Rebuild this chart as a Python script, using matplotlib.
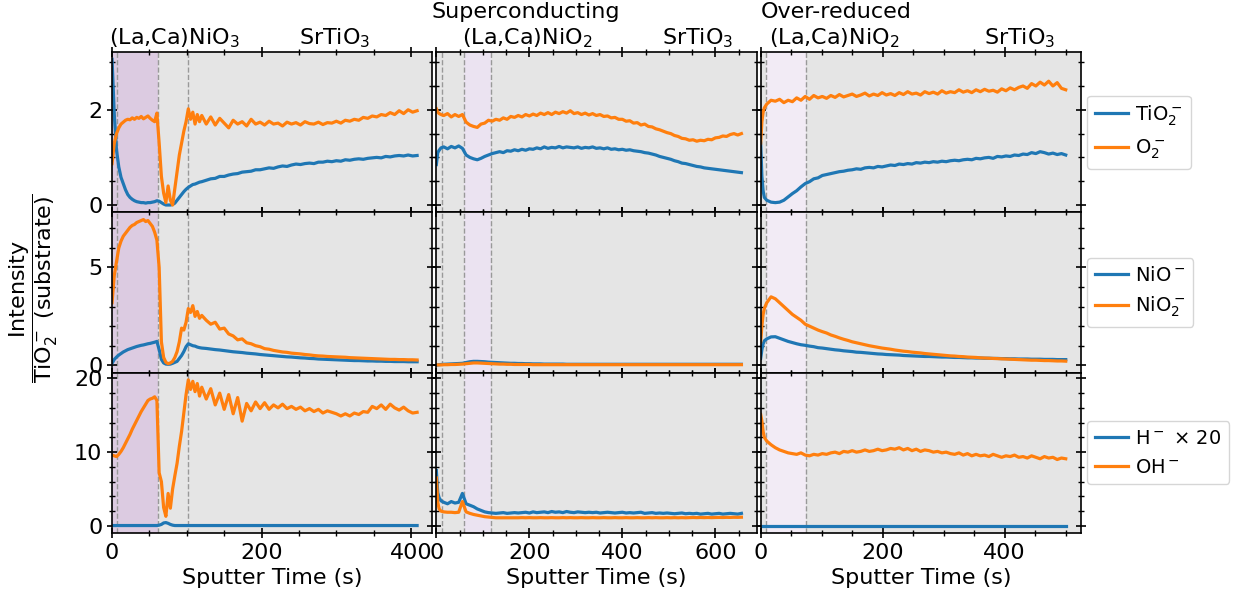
import numpy as np
import matplotlib.pyplot as plt
from matplotlib.ticker import AutoMinorLocator

plt.rcParams['font.size'] = 16

# ---------------- data ----------------
# sputter times per column (s)
t_left = np.concatenate([np.arange(0, 121, 3), np.arange(126, 409, 6)])
t_mid = np.concatenate([[0, 3, 6, 10], np.arange(16, 657, 8)])
t_right = np.concatenate([[0, 2, 4, 6], np.arange(10, 501, 7)])

# (La,Ca)NiO3 column
tio2_left = [3.06, 1.9, 1.15, 0.8, 0.58, 0.45, 0.32, 0.22, 0.16, 0.12,
             0.09, 0.07, 0.06, 0.05, 0.05, 0.04, 0.05, 0.05, 0.06, 0.07,
             0.09, 0.08, 0.05, 0.02, 0.0, 0.0, 0.0, 0.01, 0.04, 0.1,
             0.16, 0.22, 0.28, 0.33, 0.37, 0.4, 0.43, 0.44, 0.46, 0.48,
             0.49,
             0.52, 0.55, 0.56, 0.6, 0.6, 0.63, 0.65, 0.66, 0.69, 0.7,
             0.71, 0.74, 0.74, 0.76, 0.78, 0.77, 0.8, 0.82, 0.81, 0.84,
             0.86, 0.85, 0.87, 0.88, 0.87, 0.9, 0.9, 0.92, 0.91, 0.93,
             0.92, 0.95, 0.94, 0.96, 0.97, 0.96, 0.98, 0.99, 1.0, 0.99,
             1.02, 1.01, 1.03, 1.04, 1.03, 1.05, 1.03, 1.04]
o2_left = [0.87, 1.3, 1.5, 1.62, 1.7, 1.74, 1.78, 1.8, 1.79, 1.83,
           1.8, 1.84, 1.82, 1.86, 1.81, 1.84, 1.87, 1.82, 1.78, 1.75,
           1.93, 1.3, 0.6, 0.25, 0.05, 0.4, 0.1, 0.0, 0.35, 0.7,
           1.05, 1.3, 1.55, 1.75, 2.02, 1.8, 1.95, 1.7, 1.9, 1.75,
           1.88,
           1.7, 1.85, 1.68, 1.82, 1.72, 1.62, 1.78, 1.7, 1.75, 1.66,
           1.8, 1.7, 1.74, 1.68, 1.76, 1.7, 1.72, 1.66, 1.74, 1.7,
           1.73, 1.68, 1.75, 1.71, 1.7, 1.74, 1.69, 1.73, 1.72, 1.76,
           1.72, 1.78, 1.76, 1.8, 1.78, 1.84, 1.82, 1.87, 1.85, 1.9,
           1.88, 1.94, 1.9, 1.98, 1.92, 2.0, 1.95, 1.98]
nio_left = [0.1, 0.3, 0.42, 0.52, 0.6, 0.68, 0.74, 0.8, 0.84, 0.88,
            0.92, 0.96, 0.99, 1.02, 1.04, 1.07, 1.1, 1.12, 1.15, 1.18,
            1.22, 0.8, 0.3, 0.12, 0.06, 0.05, 0.06, 0.1, 0.15, 0.2,
            0.35, 0.5, 0.7, 0.95, 1.1, 1.05, 1.0, 0.98, 0.93, 0.9,
            0.88,
            0.86, 0.83, 0.8, 0.78, 0.75, 0.72, 0.69, 0.67, 0.65, 0.62,
            0.6, 0.58, 0.55, 0.53, 0.51, 0.49, 0.47, 0.45, 0.43, 0.42,
            0.4, 0.38, 0.37, 0.35, 0.34, 0.32, 0.31, 0.3, 0.29, 0.28,
            0.27, 0.26, 0.25, 0.24, 0.24, 0.23, 0.22, 0.22, 0.21, 0.21,
            0.2, 0.2, 0.19, 0.19, 0.19, 0.18, 0.18, 0.18]
nio2_left = [3.2, 4.6, 5.3, 6.0, 6.35, 6.6, 6.75, 6.9, 7.05, 7.15,
             7.2, 7.3, 7.35, 7.4, 7.45, 7.35, 7.4, 7.25, 7.1, 6.8,
             6.4, 5.0, 1.2, 0.4, 0.15, 0.08, 0.12, 0.2, 0.4, 0.7,
             1.2, 1.9, 1.8, 2.2, 2.9, 2.7, 3.05, 2.5, 2.75, 2.4,
             2.55,
             2.3, 2.1, 2.2, 1.85, 1.9, 1.6, 1.5, 1.3, 1.35, 1.15,
             1.1, 1.0, 0.95, 0.85, 0.82, 0.76, 0.72, 0.68, 0.66, 0.62,
             0.6, 0.58, 0.55, 0.53, 0.5, 0.48, 0.47, 0.45, 0.44, 0.43,
             0.42, 0.41, 0.39, 0.38, 0.37, 0.36, 0.35, 0.34, 0.33, 0.32,
             0.31, 0.3, 0.3, 0.29, 0.29, 0.28, 0.28, 0.27]
h_left = [0.05, 0.05, 0.05, 0.05, 0.05, 0.05, 0.05, 0.05, 0.05, 0.05,
          0.05, 0.05, 0.05, 0.05, 0.05, 0.05, 0.05, 0.05, 0.05, 0.05,
          0.05, 0.1, 0.2, 0.4, 0.45, 0.35, 0.2, 0.1, 0.05, 0.05,
          0.05, 0.05, 0.05, 0.05, 0.05, 0.05, 0.05, 0.05, 0.05, 0.05,
          0.05,
          0.05, 0.05, 0.05, 0.05, 0.05, 0.05, 0.05, 0.05, 0.05, 0.05,
          0.05, 0.05, 0.05, 0.05, 0.05, 0.05, 0.05, 0.05, 0.05, 0.05,
          0.05, 0.05, 0.05, 0.05, 0.05, 0.05, 0.05, 0.05, 0.05, 0.05,
          0.05, 0.05, 0.05, 0.05, 0.05, 0.05, 0.05, 0.05, 0.05, 0.05,
          0.05, 0.05, 0.05, 0.05, 0.05, 0.05, 0.05, 0.05]
oh_left = [9.6, 9.5, 9.4, 9.7, 10.1, 10.6, 11.2, 11.8, 12.4, 13.1,
           13.7, 14.3, 14.9, 15.5, 16.0, 16.5, 17.0, 17.2, 17.3, 17.5,
           17.0, 7.2, 6.0, 2.5, 1.3, 4.4, 2.4, 5.0, 6.8, 8.5,
           10.8, 12.8, 15.3, 17.8, 19.8, 18.5, 19.6, 18.2, 19.3, 17.6,
           18.8,
           17.2, 18.6, 16.4, 18.0, 15.8, 17.8, 15.2, 17.4, 14.2, 16.6,
           15.6, 16.8, 15.9, 16.7, 15.8, 16.4, 16.0, 16.5, 15.9, 16.2,
           15.8, 16.1, 15.6, 15.9, 15.5, 15.8, 15.3, 15.6, 15.4, 15.2,
           14.9, 15.2, 14.9, 15.3, 15.1, 15.5, 15.4, 16.2, 15.9, 16.4,
           15.8, 16.5, 16.0, 15.7, 16.1, 15.6, 15.3, 15.4]

# superconducting (La,Ca)NiO2 column
tio2_mid = [0.85, 1.1, 1.15, 1.2,
            1.22, 1.18, 1.23, 1.2, 1.24, 1.19, 1.05, 1.0, 0.97, 0.95,
            0.98, 1.02, 1.05, 1.08, 1.1, 1.12, 1.1, 1.14, 1.13, 1.16,
            1.14, 1.17, 1.15, 1.18, 1.17, 1.2, 1.18, 1.22, 1.19, 1.21,
            1.2, 1.23, 1.2, 1.22, 1.21, 1.2, 1.22, 1.19, 1.21, 1.2,
            1.22, 1.19, 1.2, 1.18, 1.2, 1.17, 1.18, 1.16, 1.17, 1.15,
            1.16, 1.14, 1.13, 1.12, 1.1, 1.09, 1.07, 1.05, 1.02, 1.0,
            0.98, 0.96, 0.93, 0.91, 0.88, 0.87, 0.85, 0.83, 0.81, 0.8,
            0.78, 0.77, 0.76, 0.75, 0.74, 0.73, 0.72, 0.71, 0.7, 0.69,
            0.68]
o2_mid = [2.02, 1.95, 1.92, 1.9,
          1.88, 1.92, 1.85, 1.9, 1.86, 1.9, 1.74, 1.68, 1.65, 1.63,
          1.7, 1.72, 1.78, 1.76, 1.8, 1.78, 1.83, 1.8, 1.86, 1.84,
          1.88, 1.85, 1.9, 1.87, 1.91, 1.88, 1.93, 1.9, 1.94, 1.9,
          1.95, 1.92, 1.96, 1.93, 1.98, 1.92, 1.94, 1.9, 1.93, 1.89,
          1.92, 1.88, 1.9, 1.86, 1.87, 1.83, 1.84, 1.8, 1.8, 1.76,
          1.77, 1.72, 1.73, 1.68, 1.7, 1.65, 1.64, 1.6, 1.58, 1.55,
          1.52, 1.5, 1.46, 1.44, 1.4, 1.39, 1.36, 1.37, 1.34, 1.36,
          1.35, 1.38, 1.37, 1.41, 1.42, 1.45, 1.44, 1.48, 1.5, 1.47,
          1.5]
nio_mid = [0.0, 0.02, 0.03, 0.04,
           0.05, 0.06, 0.07, 0.08, 0.09, 0.1, 0.14, 0.18, 0.2, 0.2,
           0.19, 0.18, 0.16, 0.15, 0.14, 0.13, 0.12, 0.11, 0.1, 0.1,
           0.09, 0.09, 0.08, 0.08, 0.07, 0.07, 0.07, 0.06, 0.06, 0.06,
           0.06, 0.06, 0.06, 0.05, 0.05, 0.05, 0.05, 0.05, 0.05, 0.05,
           0.05, 0.05, 0.05, 0.05, 0.05, 0.05, 0.05, 0.05, 0.05, 0.05,
           0.05, 0.05, 0.05, 0.05, 0.05, 0.05, 0.05, 0.05, 0.05, 0.05,
           0.05, 0.05, 0.05, 0.05, 0.05, 0.05, 0.05, 0.05, 0.05, 0.05,
           0.05, 0.05, 0.05, 0.05, 0.05, 0.05, 0.05, 0.05, 0.05, 0.05,
           0.05]
nio2_mid = [0.02, 0.02, 0.02, 0.02,
            0.03, 0.03, 0.04, 0.04, 0.05, 0.06, 0.08, 0.1, 0.12, 0.12,
            0.11, 0.1, 0.09, 0.08, 0.07, 0.06, 0.06, 0.05, 0.05, 0.04,
            0.04, 0.04, 0.04, 0.04, 0.03, 0.03, 0.03, 0.03, 0.03, 0.03,
            0.03, 0.03, 0.03, 0.03, 0.03, 0.03, 0.03, 0.03, 0.03, 0.03,
            0.03, 0.03, 0.03, 0.03, 0.03, 0.03, 0.03, 0.03, 0.03, 0.03,
            0.03, 0.03, 0.03, 0.03, 0.03, 0.03, 0.03, 0.03, 0.03, 0.03,
            0.03, 0.03, 0.03, 0.03, 0.03, 0.03, 0.03, 0.03, 0.03, 0.03,
            0.03, 0.03, 0.03, 0.03, 0.03, 0.03, 0.03, 0.03, 0.03, 0.03,
            0.03]
h_mid = [7.5, 4.5, 3.8, 3.4,
         3.2, 3.0, 3.3, 3.1, 3.2, 4.4, 3.0, 2.8, 2.6, 2.3,
         2.1, 1.9, 1.8, 1.75, 1.7, 1.75, 1.8, 1.7, 1.75, 1.8,
         1.75, 1.8, 1.85, 1.75, 1.9, 1.8, 1.85, 1.9, 1.8, 1.95,
         1.85, 1.9, 1.8, 1.95, 1.85, 1.8, 1.9, 1.85, 1.8, 1.85,
         1.8, 1.85, 1.75, 1.8, 1.85, 1.8, 1.75, 1.8, 1.85, 1.75,
         1.8, 1.75, 1.8, 1.85, 1.7, 1.75, 1.8, 1.7, 1.75, 1.7,
         1.75, 1.7, 1.65, 1.7, 1.75, 1.65, 1.7, 1.65, 1.7, 1.6,
         1.65, 1.7, 1.6, 1.65, 1.7, 1.6, 1.65, 1.7, 1.65, 1.6,
         1.7]
oh_mid = [6.5, 3.2, 2.3, 2.0,
          1.9, 1.85, 1.85, 1.8, 1.85, 3.3, 1.9, 1.7, 1.55, 1.45,
          1.35, 1.25, 1.2, 1.15, 1.1, 1.1, 1.1, 1.1, 1.1, 1.1,
          1.1, 1.12, 1.1, 1.12, 1.1, 1.1, 1.12, 1.1, 1.1, 1.12,
          1.1, 1.1, 1.12, 1.1, 1.12, 1.1, 1.1, 1.12, 1.1, 1.1,
          1.12, 1.1, 1.1, 1.12, 1.1, 1.1, 1.12, 1.1, 1.1, 1.12,
          1.1, 1.1, 1.12, 1.1, 1.1, 1.12, 1.1, 1.12, 1.1, 1.1,
          1.12, 1.1, 1.12, 1.1, 1.12, 1.1, 1.12, 1.14, 1.12, 1.14,
          1.12, 1.14, 1.12, 1.14, 1.15, 1.14, 1.16, 1.15, 1.17, 1.16,
          1.18]

# over-reduced (La,Ca)NiO2 column
tio2_right = [1.3, 0.6, 0.3, 0.16,
              0.1, 0.06, 0.05, 0.06, 0.1, 0.17, 0.24, 0.3, 0.38, 0.45,
              0.49, 0.55, 0.57, 0.62, 0.64, 0.66, 0.68, 0.7, 0.71, 0.73,
              0.74, 0.76, 0.75, 0.78, 0.79, 0.78, 0.81, 0.8, 0.82, 0.84,
              0.83, 0.86, 0.85, 0.87, 0.86, 0.89, 0.88, 0.9, 0.89, 0.91,
              0.9, 0.92, 0.91, 0.93, 0.94, 0.93, 0.95, 0.96, 0.95, 0.98,
              0.97, 0.99, 1.0, 0.98, 1.02, 1.01, 1.03, 1.02, 1.05, 1.04,
              1.07, 1.06, 1.1, 1.08, 1.12, 1.1, 1.07, 1.09, 1.06, 1.08,
              1.05]
o2_right = [1.3, 1.75, 1.95, 2.04,
            2.12, 2.2, 2.18, 2.22, 2.15, 2.2, 2.17, 2.25, 2.2, 2.28,
            2.22, 2.3, 2.25, 2.28, 2.24, 2.3, 2.26, 2.32, 2.27, 2.3,
            2.33, 2.28, 2.31, 2.35, 2.29, 2.33, 2.3, 2.36, 2.31, 2.34,
            2.3, 2.36, 2.32, 2.38, 2.33, 2.35, 2.31, 2.38, 2.34, 2.37,
            2.33, 2.4, 2.35, 2.38, 2.36, 2.42, 2.37, 2.4, 2.36, 2.42,
            2.38, 2.43, 2.39, 2.41, 2.37, 2.44, 2.4, 2.46, 2.42, 2.47,
            2.5, 2.45, 2.55, 2.5, 2.58, 2.52, 2.6, 2.5, 2.57, 2.45,
            2.42]
nio_right = [0.35, 0.8, 1.1, 1.25,
             1.35, 1.45, 1.46, 1.38, 1.3, 1.22, 1.16, 1.1, 1.05, 1.02,
             0.98, 0.95, 0.9, 0.88, 0.85, 0.82, 0.79, 0.77, 0.74, 0.72,
             0.7, 0.67, 0.66, 0.64, 0.62, 0.6, 0.58, 0.57, 0.55, 0.54,
             0.53, 0.52, 0.5, 0.49, 0.48, 0.47, 0.46, 0.45, 0.45, 0.44,
             0.43, 0.42, 0.42, 0.41, 0.4, 0.4, 0.39, 0.38, 0.38, 0.37,
             0.37, 0.36, 0.36, 0.35, 0.35, 0.34, 0.34, 0.33, 0.33, 0.32,
             0.32, 0.32, 0.31, 0.31, 0.31, 0.3, 0.3, 0.3, 0.29, 0.29,
             0.29]
nio2_right = [1.2, 2.0, 2.6, 2.9,
              3.2, 3.5, 3.4, 3.2, 3.0, 2.8, 2.6, 2.45, 2.3, 2.1,
              2.0, 1.9, 1.8, 1.72, 1.65, 1.55, 1.48, 1.4, 1.33, 1.27,
              1.2, 1.15, 1.1, 1.05, 1.0, 0.96, 0.92, 0.88, 0.85, 0.82,
              0.78, 0.75, 0.72, 0.7, 0.67, 0.65, 0.63, 0.6, 0.58, 0.56,
              0.54, 0.52, 0.5, 0.48, 0.47, 0.45, 0.44, 0.42, 0.41, 0.4,
              0.38, 0.37, 0.36, 0.35, 0.34, 0.33, 0.32, 0.31, 0.3, 0.29,
              0.28, 0.27, 0.26, 0.26, 0.25, 0.24, 0.24, 0.23, 0.22, 0.22,
              0.21]
h_right = [0.05, 0.05, 0.05, 0.05,
           0.05, 0.05, 0.05, 0.05, 0.05, 0.05, 0.05, 0.05, 0.05, 0.05,
           0.05, 0.05, 0.05, 0.05, 0.05, 0.05, 0.05, 0.05, 0.05, 0.05,
           0.05, 0.05, 0.05, 0.05, 0.05, 0.05, 0.05, 0.05, 0.05, 0.05,
           0.05, 0.05, 0.05, 0.05, 0.05, 0.05, 0.05, 0.05, 0.05, 0.05,
           0.05, 0.05, 0.05, 0.05, 0.05, 0.05, 0.05, 0.05, 0.05, 0.05,
           0.05, 0.05, 0.05, 0.05, 0.05, 0.05, 0.05, 0.05, 0.05, 0.05,
           0.05, 0.05, 0.05, 0.05, 0.05, 0.05, 0.05, 0.05, 0.05, 0.05,
           0.05]
oh_right = [15.1, 14.2, 12.8, 12.0,
            11.5, 11.0, 10.6, 10.3, 10.1, 9.9, 9.8, 9.7, 9.9, 9.6,
            9.5, 9.7, 9.6, 9.8, 9.7, 9.9, 10.0, 9.8, 10.1, 10.0,
            10.2, 10.0, 10.1, 10.3, 10.1, 10.2, 10.4, 10.2, 10.3, 10.5,
            10.4, 10.6, 10.3, 10.5, 10.2, 10.4, 10.1, 10.3, 10.2, 10.0,
            10.1, 9.9, 10.0, 9.8, 9.7, 9.9, 9.6, 9.8, 9.5, 9.7,
            9.5, 9.6, 9.4, 9.7, 9.5, 9.3, 9.5, 9.4, 9.6, 9.3,
            9.4, 9.2, 9.5, 9.3, 9.1, 9.4, 9.2, 9.3, 9.0, 9.2,
            9.1]

# layer boundaries (s) and shaded film region per column
boundaries = [[7, 61, 101], [12, 60, 118], [8, 75]]
shaded = [(0, 61), (60, 118), (8, 75)]
shade_colors = ['#dccbe1', '#ebe3f1', '#f2ebf5']

labels = [['TiO$_2^-$', 'O$_2^-$'],
          ['NiO$^-$', 'NiO$_2^-$'],
          ['H$^-$ $\\times$ 20', 'OH$^-$']]

times = [t_left, t_mid, t_right]
data = [[(tio2_left, o2_left), (tio2_mid, o2_mid), (tio2_right, o2_right)],
        [(nio_left, nio2_left), (nio_mid, nio2_mid), (nio_right, nio2_right)],
        [(h_left, oh_left), (h_mid, oh_mid), (h_right, oh_right)]]

fig, axs = plt.subplots(3, 3, figsize=(12.34, 5.98), dpi=100,
                        sharex='col', sharey='row')
fig.subplots_adjust(left=0.0908, right=0.876, top=0.913, bottom=0.109,
                    hspace=0, wspace=0.0125)

for r in range(3):
    for c in range(3):
        ax = axs[r, c]
        ax.set_facecolor('#e5e5e5')
        ax.axvspan(*shaded[c], color=shade_colors[c], zorder=0.5, lw=0)
        for b in boundaries[c]:
            ax.axvline(b, color='#999999', ls='--', lw=1, zorder=0.6)
        blue, orange = data[r][c]
        ax.plot(times[c], blue, color='tab:blue', lw=2.3, label=labels[r][0])
        ax.plot(times[c], orange, color='tab:orange', lw=2.3, label=labels[r][1])
        ax.xaxis.set_minor_locator(AutoMinorLocator())
        ax.yaxis.set_minor_locator(AutoMinorLocator())
        ax.tick_params(which='both', direction='inout', top=True, right=True)
        ax.tick_params(which='major', length=7, width=1.2)
        ax.tick_params(which='minor', length=4, width=1)
        for s in ax.spines.values():
            s.set_linewidth(1.2)
        if r == 2:
            ax.set_xlabel('Sputter Time (s)')
        if c == 2:
            ax.legend(loc='center left', bbox_to_anchor=(1.0, 0.5),
                      fontsize=14, handlelength=1.7, handletextpad=0.4,
                      borderaxespad=0.3)

for c in range(3):
    axs[0, c].set_xlim(left=0)

# column headings above the top row
top = axs[0, 0]
top.text(-0.009, 1.045, '(La,Ca)NiO$_3$', transform=top.transAxes, va='baseline')
top.text(0.583, 1.045, 'SrTiO$_3$', transform=top.transAxes, va='baseline')
mid = axs[0, 1]
mid.text(-0.016, 1.21, 'Superconducting', transform=mid.transAxes, va='baseline')
mid.text(0.081, 1.045, '(La,Ca)NiO$_2$', transform=mid.transAxes, va='baseline')
mid.text(0.706, 1.045, 'SrTiO$_3$', transform=mid.transAxes, va='baseline')
rgt = axs[0, 2]
rgt.text(0.0, 1.21, 'Over-reduced', transform=rgt.transAxes, va='baseline')
rgt.text(0.025, 1.045, '(La,Ca)NiO$_2$', transform=rgt.transAxes, va='baseline')
rgt.text(0.697, 1.045, 'SrTiO$_3$', transform=rgt.transAxes, va='baseline')

fig.text(0.027, 0.518,
         r'$\dfrac{\mathrm{Intensity}}{\mathrm{TiO_2^-\ (substrate)}}$',
         rotation=90, va='center', ha='center', fontsize=16)

fig.savefig('out.png', dpi=100)
